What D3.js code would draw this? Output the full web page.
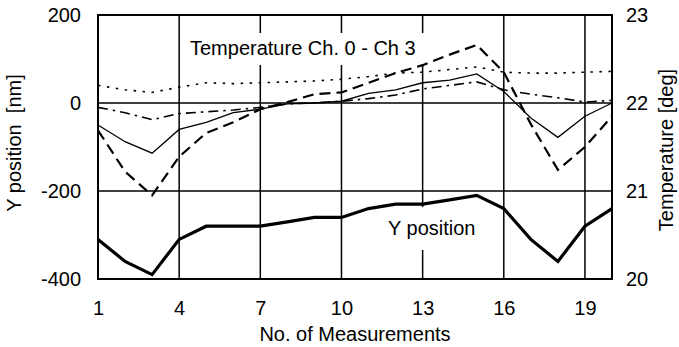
<!DOCTYPE html>
<html>
<head>
<meta charset="utf-8">
<script src="https://cdn.jsdelivr.net/npm/d3@7/dist/d3.min.js"></script>
<style>
body{margin:0;background:#fff;}
svg text{font-family:"Liberation Sans",Arial,sans-serif;font-size:20px;fill:#000;}
</style>
</head>
<body>
<div id="chart"></div>
<script>
// data
var measurements = [1,2,3,4,5,6,7,8,9,10,11,12,13,14,15,16,17,18,19,20];
var yPosition = [-310,-360,-390,-310,-280,-280,-280,-270,-260,-260,-240,-230,-230,-220,-210,-240,-310,-360,-280,-240];
var tempCh0 = [22.2,22.15,22.12,22.18,22.23,22.22,22.23,22.24,22.25,22.27,22.3,22.34,22.35,22.38,22.41,22.35,22.34,22.34,22.35,22.36];
var tempCh1 = [21.95,21.89,21.81,21.88,21.9,21.92,21.95,21.99,22.0,22.02,22.05,22.09,22.16,22.2,22.24,22.15,22.1,22.06,22.01,22.03];
var tempCh2 = [21.75,21.56,21.43,21.7,21.78,21.89,21.93,21.99,22.0,22.02,22.11,22.15,22.23,22.26,22.33,22.13,21.83,21.61,21.85,22.0];
var tempCh3 = [21.69,21.22,20.95,21.39,21.66,21.78,21.93,22.01,22.1,22.12,22.23,22.34,22.43,22.55,22.66,22.35,21.76,21.24,21.5,21.85];
var xTicks = [1,4,7,10,13,16,19];
var yTicks = [-400,-200,0,200];
var tTicks = [20,21,22,23];

//margins
var svgWidth = 679,
svgHeight = 347;

var margin = {t:15, r:67, b:68, l:98};

var width = svgWidth - margin.l - margin.r,
height = svgHeight - margin.t - margin.b;

var svg = d3.select('#chart')
	.append('svg')
	.attr('width', svgWidth)
	.attr('height', svgHeight);

var chart = svg.append('g')
	.attr('transform', `translate(${margin.l},${margin.t})`);

var xScale = d3.scaleLinear().domain([1,20]).range([0,width]),
	yScale = d3.scaleLinear().domain([-400,200]).range([height,0]),
	tScale = d3.scaleLinear().domain([20,23]).range([height,0]);

// grid
chart.selectAll('.vgrid')
	.data(xTicks.filter(d => d > 1))
	.enter().append('line')
	.attr('x1', d => xScale(d)).attr('x2', d => xScale(d))
	.attr('y1', 0).attr('y2', height)
	.attr('stroke', '#000').attr('stroke-width', 1.5);

chart.selectAll('.hgrid')
	.data(yTicks.filter(d => d > -400 && d < 200))
	.enter().append('line')
	.attr('x1', 0).attr('x2', width)
	.attr('y1', d => yScale(d)).attr('y2', d => yScale(d))
	.attr('stroke', '#000').attr('stroke-width', 1.5);

// label boxes hide the grid
chart.append('rect')
	.attr('x', 88).attr('y', 18).attr('width', 240).attr('height', 32)
	.attr('fill', '#fff');
chart.append('rect')
	.attr('x', 287).attr('y', 192).attr('width', 102).attr('height', 43)
	.attr('fill', '#fff');

chart.append('rect')
	.attr('x', 0).attr('y', 0)
	.attr('width', width).attr('height', height)
	.attr('fill', 'none').attr('stroke', '#000').attr('stroke-width', 2);

// axes
var fmt = d => String(d);
var xAxis = d3.axisBottom(xScale).tickValues(xTicks).tickSize(0).tickPadding(22).tickFormat(fmt);
var yAxis = d3.axisLeft(yScale).tickValues(yTicks).tickSize(0).tickPadding(17).tickFormat(fmt);
var tAxis = d3.axisRight(tScale).tickValues(tTicks).tickSize(0).tickPadding(14).tickFormat(fmt);

[chart.append('g').attr('transform', `translate(0,${height})`).call(xAxis),
 chart.append('g').call(yAxis),
 chart.append('g').attr('transform', `translate(${width},0)`).call(tAxis)]
	.forEach(g => {
		g.select('.domain').remove();
		g.attr('font-size', null).attr('font-family', null);
	});

// lines
var yLine = d3.line()
	.x((d,i) => xScale(measurements[i]))
	.y(d => yScale(d));
var tLine = d3.line()
	.x((d,i) => xScale(measurements[i]))
	.y(d => tScale(d));

var tempSeries = [
	{vals: tempCh0, w: 1.6, dash: '2.5,6.5'},
	{vals: tempCh1, w: 1.6, dash: '10,5,2.5,5'},
	{vals: tempCh2, w: 1.3, dash: null},
	{vals: tempCh3, w: 2.2, dash: '11,6'}
];

tempSeries.forEach(s => {
	chart.append('path')
		.datum(s.vals)
		.attr('d', tLine)
		.attr('fill', 'none')
		.attr('stroke', '#000')
		.attr('stroke-width', s.w)
		.attr('stroke-dasharray', s.dash);
});

chart.append('path')
	.datum(yPosition)
	.attr('d', yLine)
	.attr('fill', 'none')
	.attr('stroke', '#000')
	.attr('stroke-width', 3.2);

// annotations
chart.append('text')
	.attr('x', 92).attr('y', 40)
	.text('Temperature Ch. 0 - Ch 3');
chart.append('text')
	.attr('x', 290).attr('y', 220)
	.text('Y position');

// axis titles
svg.append('text')
	.attr('transform', `translate(21,${margin.t + 128})rotate(-90)`)
	.attr('text-anchor', 'middle')
	.text('Y position\u00a0\u00a0[nm]');

svg.append('text')
	.attr('transform', `translate(673,${margin.t + 135})rotate(-90)`)
	.attr('text-anchor', 'middle')
	.text('Temperature [deg]');

svg.append('text')
	.attr('x', margin.l + width / 2).attr('y', 341)
	.attr('text-anchor', 'middle')
	.text('No. of Measurements');
</script>
</body>
</html>
